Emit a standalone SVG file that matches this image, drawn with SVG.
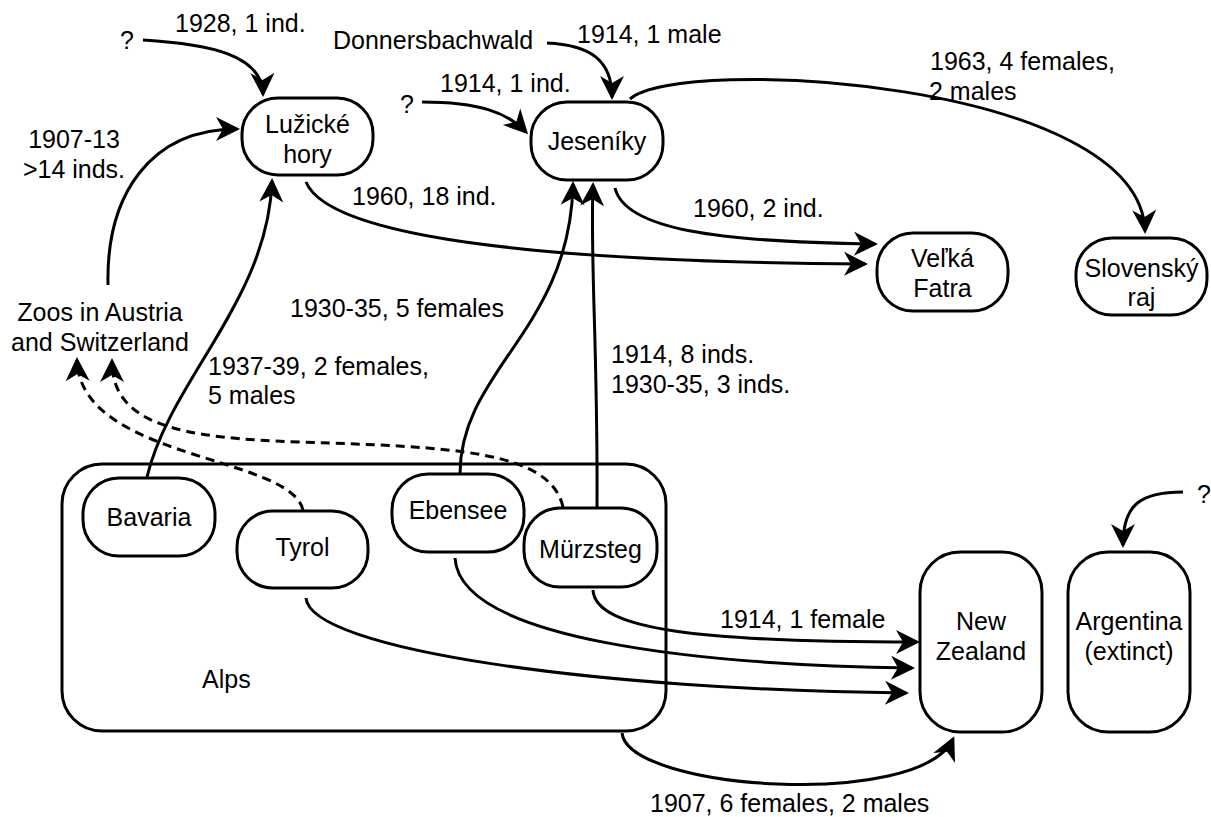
<svg xmlns="http://www.w3.org/2000/svg" width="1211" height="817" viewBox="0 0 1211 817">
<style>
text{font-family:"Liberation Sans",Arial,Helvetica,sans-serif;font-size:25px;fill:#000}
.n{fill:#fff;stroke:#000;stroke-width:3}
.c{fill:none;stroke:#000;stroke-width:3;marker-end:url(#arr)}
.d{stroke-dasharray:9 6}
.m{text-anchor:middle}
</style>
<defs>
<marker id="arr" markerUnits="userSpaceOnUse" viewBox="-26 -13 30 26" refX="-3" refY="0" markerWidth="30" markerHeight="26" orient="auto">
<path d="M0,0 L-24,-12 L-17,0 L-24,12 Z" fill="#000"/>
</marker>
</defs>
<rect width="1211" height="817" fill="#fff"/>
<g id="alps">
<rect class="n" x="62" y="464" width="604" height="267" rx="40" ry="40"/>
<text x="202" y="688">Alps</text>
</g>
<g id="luzicke">
<rect class="n" x="242" y="98" width="131" height="77" rx="36" ry="36"/>
<text class="m" x="307.5" y="133">Lužické</text>
<text class="m" x="307.5" y="163">hory</text>
</g>
<g id="jeseniky">
<rect class="n" x="531" y="102" width="132" height="78" rx="36" ry="36"/>
<text class="m" x="597" y="150">Jeseníky</text>
</g>
<g id="velka-fatra">
<rect class="n" x="877" y="233" width="131" height="78" rx="36" ry="36"/>
<text class="m" x="942.5" y="267">Veľká</text>
<text class="m" x="942.5" y="297">Fatra</text>
</g>
<g id="slovensky-raj">
<rect class="n" x="1076" y="238" width="131" height="77" rx="36" ry="36"/>
<text class="m" x="1141.5" y="277">Slovenský</text>
<text class="m" x="1141.5" y="306">raj</text>
</g>
<g id="bavaria">
<rect class="n" x="83" y="478" width="132" height="78" rx="36" ry="36"/>
<text class="m" x="149" y="526">Bavaria</text>
</g>
<g id="tyrol">
<rect class="n" x="237" y="511" width="131" height="77" rx="36" ry="36"/>
<text class="m" x="302.5" y="556">Tyrol</text>
</g>
<g id="ebensee">
<rect class="n" x="392" y="474" width="132" height="78" rx="36" ry="36"/>
<text class="m" x="458" y="519">Ebensee</text>
</g>
<g id="murzsteg">
<rect class="n" x="524" y="508" width="133" height="79" rx="36" ry="36"/>
<text class="m" x="590.5" y="558">Mürzsteg</text>
</g>
<g id="new-zealand">
<rect class="n" x="920" y="552" width="122" height="180" rx="40" ry="40"/>
<text class="m" x="981" y="630">New</text>
<text class="m" x="981" y="660">Zealand</text>
</g>
<g id="argentina">
<rect class="n" x="1068" y="552" width="122" height="180" rx="40" ry="40"/>
<text class="m" x="1129" y="630">Argentina</text>
<text class="m" x="1129" y="660">(extinct)</text>
</g>
<g id="zoos">
<text class="m" x="100" y="321">Zoos in Austria</text>
<text class="m" x="100" y="351">and Switzerland</text>
</g>
<g id="sources">
<text x="120" y="49">?</text>
<text x="333" y="49">Donnersbachwald</text>
<text x="400" y="113">?</text>
<text x="1197" y="503">?</text>
</g>
<g id="connectors">
<path class="c" d="M143,40 C210,44 262,55 263,94"/>
<path class="c" d="M108,285 C106,195 150,129 237,129"/>
<path class="c" d="M147,477 C170,380 268,300 272,181"/>
<path class="c" d="M306,182 C330,240 560,262 865,264"/>
<path class="c" d="M615,188 C625,230 720,242 875,244"/>
<path class="c" d="M422,102 C480,102 508,113 526,132"/>
<path class="c" d="M547,43 C590,45 612,60 612,97"/>
<path class="c" d="M630,99 C680,55 1140,80 1145,231"/>
<path class="c" d="M460,474 C460,370 570,330 573,184"/>
<path class="c" d="M597,508 C598,350 590,260 593,185"/>
<path class="c" d="M593,590 C595,630 700,642 917,642"/>
<path class="c" d="M455,558 C460,640 700,665 912,668"/>
<path class="c" d="M306,598 C310,650 600,690 906,693"/>
<path class="c" d="M622,733 C628,790 920,810 953,739"/>
<path class="c" d="M1183,492 C1140,492 1123,505 1123,545"/>
<path class="c d" d="M303,510 C290,455 80,460 77,360"/>
<path class="c d" d="M563,507 C550,450 450,447 300,442 C180,438 112,425 112,361"/>
</g>
<g id="labels">
<text x="175" y="32">1928, 1 ind.</text>
<text x="577" y="43">1914, 1 male</text>
<text x="440" y="92">1914, 1 ind.</text>
<text x="930" y="70">1963, 4 females,</text>
<text x="929" y="100">2 males</text>
<text class="m" x="74" y="148">1907-13</text>
<text class="m" x="74" y="178">&gt;14 inds.</text>
<text x="352" y="205">1960, 18 ind.</text>
<text x="693" y="217">1960, 2 ind.</text>
<text x="290" y="317">1930-35, 5 females</text>
<text x="208" y="375">1937-39, 2 females,</text>
<text x="208" y="404">5 males</text>
<text x="611" y="363">1914, 8 inds.</text>
<text x="611" y="393">1930-35, 3 inds.</text>
<text x="720" y="628">1914, 1 female</text>
<text x="650" y="812">1907, 6 females, 2 males</text>
</g>
</svg>
